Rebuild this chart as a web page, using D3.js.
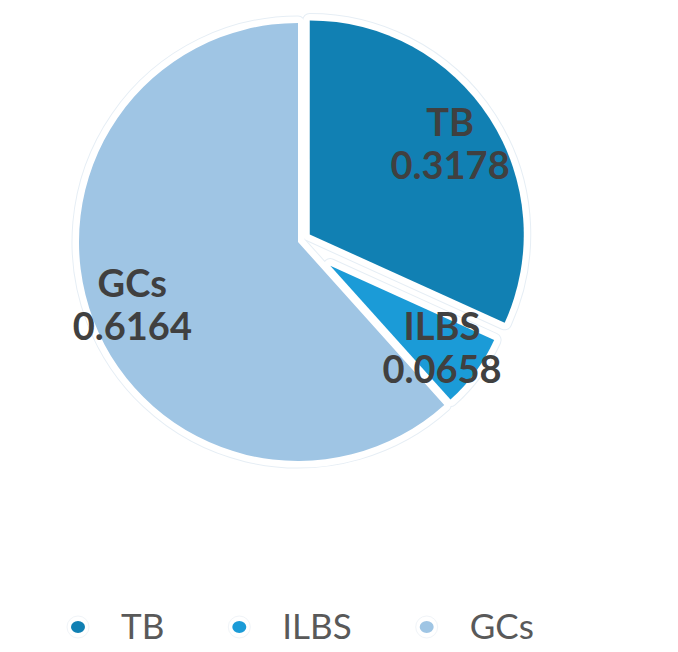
<!DOCTYPE html>
<html>
<head>
<meta charset="utf-8">
<script src="https://cdn.jsdelivr.net/npm/d3@7"></script>
<style>
  html, body { margin: 0; padding: 0; background: #ffffff; }
  svg { display: block; }
</style>
</head>
<body>
<svg id="chart" width="678" height="652"></svg>
<script>
// ---- data ----
const categories = ["TB", "ILBS", "GCs"];
const values = [0.3178, 0.0658, 0.6164];
const valueLabels = ["0.3178", "0.0658", "0.6164"];
const colors = ["#1180b3", "#1b9bd7", "#9fc5e4"];

// ---- style / layout ----
const explode = [14, 40, 0];
const radii = [214, 180, 219];
const labelFrac = [0.78, 0.77, 0.81];
const center = [298, 242];

const svg = d3.select("#chart");
const color = d3.scaleOrdinal().domain(categories).range(colors);

const pie = d3.pie().sort(null).value(d => d.value);
const data = pie(categories.map((c, i) => ({ name: c, value: values[i], label: valueLabels[i], i })));

const g = svg.append("g").attr("transform", `translate(${center[0]},${center[1]})`);

function sliceOffset(d) {
  const mid = (d.startAngle + d.endAngle) / 2;
  const e = explode[d.data.i];
  return [Math.sin(mid) * e, -Math.cos(mid) * e];
}
function arcFor(d) {
  return d3.arc().innerRadius(0).outerRadius(radii[d.data.i])(d);
}

// faint outer outline
g.selectAll("path.halo").data(data).join("path")
  .attr("class", "halo")
  .attr("transform", d => `translate(${sliceOffset(d)})`)
  .attr("d", arcFor)
  .attr("fill", "none")
  .attr("stroke", "#e6eef5")
  .attr("stroke-width", 15)
  .attr("stroke-linejoin", "round");

// white band
g.selectAll("path.band").data(data).join("path")
  .attr("class", "band")
  .attr("transform", d => `translate(${sliceOffset(d)})`)
  .attr("d", arcFor)
  .attr("fill", "none")
  .attr("stroke", "#ffffff")
  .attr("stroke-width", 13)
  .attr("stroke-linejoin", "round");

// slices
g.selectAll("path.slice").data(data).join("path")
  .attr("class", "slice")
  .attr("transform", d => `translate(${sliceOffset(d)})`)
  .attr("d", arcFor)
  .attr("fill", d => color(d.data.name));

// labels
const lbl = g.selectAll("text.lbl").data(data).join("text")
  .attr("class", "lbl")
  .attr("text-anchor", "middle")
  .attr("font-family", "Lato, 'Open Sans', sans-serif")
  .attr("font-weight", "bold")
  .attr("font-size", 38)
  .attr("fill", "#404040")
  .attr("transform", d => {
    const mid = (d.startAngle + d.endAngle) / 2;
    const o = sliceOffset(d);
    const r = radii[d.data.i] * labelFrac[d.data.i];
    return `translate(${o[0] + Math.sin(mid) * r},${o[1] - Math.cos(mid) * r})`;
  });
lbl.append("tspan").attr("x", 0).attr("y", -8).text(d => d.data.name);
lbl.append("tspan").attr("x", 0).attr("y", 35).text(d => d.data.label);

// legend
const legend = svg.append("g").attr("transform", "translate(78,627)");
let x = 0;
categories.forEach((c, i) => {
  const item = legend.append("g").attr("transform", `translate(${x},0)`);
  item.append("circle").attr("r", 11).attr("fill", "#ffffff").attr("stroke", "#f0f4f8").attr("stroke-width", 1);
  item.append("ellipse").attr("rx", 7).attr("ry", 6).attr("fill", color(c));
  const t = item.append("text")
    .attr("x", 43).attr("y", 12)
    .attr("font-family", "Lato, 'Open Sans', sans-serif")
    .attr("font-size", 35)
    .attr("fill", "#595959")
    .text(c);
  const w = t.node().getComputedTextLength();
  x += 43 + w + 75;
});
</script>
</body>
</html>
